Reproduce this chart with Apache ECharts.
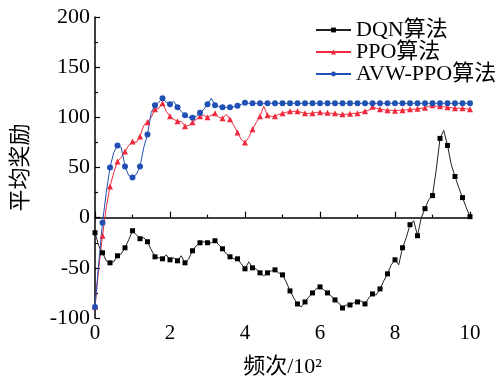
<!DOCTYPE html>
<html>
<head>
<meta charset="utf-8">
<script src="https://cdn.jsdelivr.net/npm/echarts@6/dist/echarts.min.js"></script>
<style>
  html, body { margin: 0; padding: 0; background: #fff; }
  #chart { width: 500px; height: 377px; }
</style>
</head>
<body>
<div id="chart"></div>
<script>
// Episodes (in units of 10^2), sampled every 0.1
const episodes = Array.from({ length: 101 }, (_, i) => +(i / 10).toFixed(1));

// Average reward per algorithm
const dqnReward = [
  -15, -28, -35, -43, -45, -44, -38, -36, -30, -22,
  -13, -17, -21, -20, -24, -32, -39, -40, -41, -37,
  -42, -40, -43, -38, -45, -41, -33, -28, -25, -24,
  -25, -25, -23, -27, -31, -36, -39, -41, -41, -46,
  -51, -44, -50, -51, -55, -58, -55, -53, -52, -55,
  -57, -64, -73, -80, -86, -89, -84, -79, -75, -71,
  -69, -72, -75, -78, -82, -85, -90, -87, -87, -85,
  -84, -83, -86, -80, -76, -77, -71, -63, -56, -47,
  -42, -47, -30, -20, -7, -3, -18, 0, 9, 18,
  22, 48, 79, 87, 72, 53, 41, 30, 20, 10,
  1
];
const ppoReward = [
  -89, -50, -18, 10, 31, 45, 56, 60, 66, 72,
  76, 75, 81, 92, 95, 100, 108, 109, 114, 106,
  101, 98, 96, 96, 91, 92, 95, 98, 101, 102,
  100, 102, 104, 100, 99, 103, 98, 92, 85, 78,
  75, 80, 88, 95, 101, 111, 102, 101, 101, 103,
  104, 105, 106, 106, 106, 105, 104, 104, 104, 105,
  105, 104, 104.5, 104, 104, 103, 103, 103, 103.5, 104,
  104, 105, 106, 107, 110.5, 109, 108, 107.5, 107, 107,
  106.5, 107, 107, 107.5, 108, 108, 108.5, 109, 109.5, 111,
  112, 111, 111, 110.5, 110, 109.5, 109, 109, 109, 108.5,
  108
];
const avwPpoReward = [
  -89, -45, -5, 25, 50, 65, 72, 70, 51, 42,
  40, 43, 51, 70, 83, 105, 112, 115, 119, 115,
  113, 116, 110, 106, 102, 100, 99.5, 101, 104.5, 108,
  113, 119, 112, 111, 110, 110, 110, 110.5, 111.5, 113,
  114.5, 114, 114, 114, 114, 114, 114, 114, 114, 114,
  114, 114, 114, 114, 114, 114, 114, 114, 114, 114,
  114, 114, 114, 114, 114, 114, 114, 114, 114, 114,
  114, 114, 114, 114, 114, 114, 114, 114, 114, 114,
  114, 114, 114, 114, 114, 114, 114, 114, 114, 114,
  114, 114, 114, 114, 114, 114, 114, 114, 114, 114,
  114
];

const seriesNames = ['DQN算法', 'PPO算法', 'AVW-PPO算法'];
const xTicks = { min: 0, max: 10, interval: 2 };
const yTicks = { min: -100, max: 200, interval: 50 };

const FONT = '"Liberation Serif", "Noto Sans CJK SC", serif';

function pairs(ys) { return episodes.map((x, i) => [x, ys[i]]); }
// markers every 0.2 (every second sample)
function markerSize(size) {
  return (val, params) => (params.dataIndex % 2 === 0 ? size : 0);
}

const chart = echarts.init(document.getElementById('chart'), null, { renderer: 'canvas' });
chart.setOption({
  animation: false,
  backgroundColor: '#fff',
  grid: { left: 95, right: 30, top: 17, bottom: 59, containLabel: false, outerBoundsMode: 'none' },
  legend: {
    data: seriesNames,
    orient: 'vertical',
    left: 310,
    top: 14,
    itemWidth: 35,
    itemHeight: 6,
    itemGap: 0,
    textStyle: { fontFamily: FONT, fontSize: 22, color: '#000', lineHeight: 21 }
  },
  xAxis: {
    type: 'value',
    min: xTicks.min, max: xTicks.max, interval: xTicks.interval,
    name: '频次/10²',
    nameLocation: 'middle',
    nameGap: 38,
    nameTextStyle: { fontFamily: FONT, fontSize: 22, color: '#000' },
    axisLine: { lineStyle: { color: '#000', width: 1.5 } },
    axisTick: { inside: true, length: 6, lineStyle: { color: '#000', width: 1.2 } },
    minorTick: { show: true, splitNumber: 2, length: 3, lineStyle: { color: '#000', width: 1.2 } },
    axisLabel: { fontFamily: FONT, fontSize: 21, color: '#000', margin: 5 },
    splitLine: { show: false }
  },
  yAxis: {
    type: 'value',
    min: yTicks.min, max: yTicks.max, interval: yTicks.interval,
    name: '平均奖励',
    nameLocation: 'middle',
    nameRotate: 90,
    nameGap: 63,
    nameTextStyle: { fontFamily: FONT, fontSize: 22, color: '#000' },
    axisLine: { show: true, lineStyle: { color: '#000', width: 1.5 } },
    axisTick: { show: true, inside: true, length: 5, lineStyle: { color: '#000', width: 1.2 } },
    minorTick: { show: true, splitNumber: 2, length: 3, lineStyle: { color: '#000', width: 1.2 } },
    axisLabel: { fontFamily: FONT, fontSize: 22, color: '#000', margin: 5 },
    splitLine: { show: false }
  },
  series: [
    {
      name: seriesNames[0], type: 'line', data: pairs(dqnReward),
      symbol: 'rect', symbolSize: markerSize(5), showAllSymbol: true,
      lineStyle: { color: '#222', width: 1 },
      itemStyle: { color: '#000' }
    },
    {
      name: seriesNames[1], type: 'line', data: pairs(ppoReward),
      symbol: 'triangle', symbolSize: markerSize(6), showAllSymbol: true,
      lineStyle: { color: '#f0283c', width: 1 },
      itemStyle: { color: '#f0283c' }
    },
    {
      name: seriesNames[2], type: 'line', data: pairs(avwPpoReward),
      symbol: 'circle', symbolSize: markerSize(6), showAllSymbol: true,
      lineStyle: { color: '#2050b4', width: 1 },
      itemStyle: { color: '#2050b4' }
    }
  ]
});
</script>
</body>
</html>
